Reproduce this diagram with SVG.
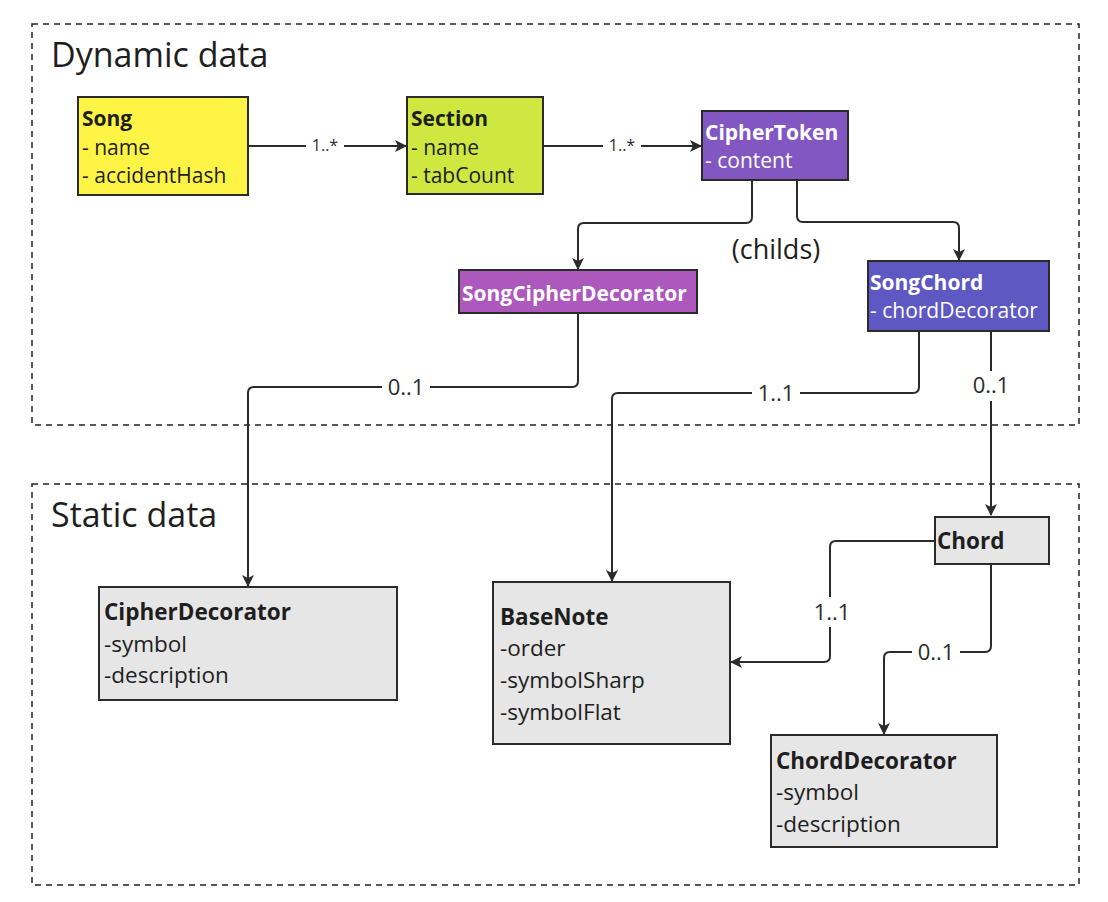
<svg xmlns="http://www.w3.org/2000/svg" width="1108" height="902" viewBox="0 0 1108 902">
<style>
  text { font-family: "Open Sans", "Noto Sans", "Liberation Sans", sans-serif; }
  .frame { fill: none; stroke: #222; stroke-width: 1.5; stroke-dasharray: 6 5; }
  .title { font-size: 34px; fill: #1e1e1e; }
  .box { stroke: #2b2b2b; stroke-width: 2; }
  .t { font-size: 21px; fill: #1e1e1e; }
  .tw { font-size: 21px; fill: #ffffff; }
  .s { font-size: 22.5px; fill: #1e1e1e; }
  .b { font-weight: bold; }
  .edge { fill: none; stroke: #2b2b2b; stroke-width: 2; marker-end: url(#arr); }
  .lbl { font-size: 22px; fill: #2b2b2b; text-anchor: middle; }
  .lbls { font-size: 16px; fill: #2b2b2b; text-anchor: middle; }
  .lblbg { fill: #ffffff; }
</style>
<defs>
  <marker id="arr" viewBox="0 0 12 12" refX="11" refY="6" markerWidth="12" markerHeight="12" markerUnits="userSpaceOnUse" orient="auto">
    <path d="M0,0 L12,6 L0,12 L3,6 Z" fill="#2b2b2b"/>
  </marker>
</defs>
<rect width="1108" height="902" fill="#ffffff"/>

<g id="frame-dynamic">
  <rect class="frame" x="32" y="24" width="1047" height="401"/>
  <text class="title" x="51" y="67">Dynamic data</text>
</g>
<g id="frame-static">
  <rect class="frame" x="32" y="484" width="1047" height="401"/>
  <text class="title" x="51" y="527">Static data</text>
</g>

<g id="connectors">
  <path class="edge" d="M248,146 H406"/>
  <rect class="lblbg" x="306" y="136" width="38" height="20"/>
  <text class="lbls" x="325" y="151">1..*</text>

  <path class="edge" d="M543,146 H701"/>
  <rect class="lblbg" x="603" y="136" width="38" height="20"/>
  <text class="lbls" x="622" y="151">1..*</text>

  <path class="edge" d="M752,180 V217 Q752,223 746,223 H584 Q578,223 578,229 V269"/>
  <path class="edge" d="M797,180 V216 Q797,222 803,222 H953 Q959,222 959,228 V260"/>

  <path class="edge" d="M578,313 V381 Q578,387 572,387 H254 Q248,387 248,393 V586"/>
  <rect class="lblbg" x="382" y="374" width="48" height="26"/>
  <text class="lbl" x="406" y="395">0..1</text>

  <path class="edge" d="M919,331 V387 Q919,393 913,393 H618 Q612,393 612,399 V581"/>
  <rect class="lblbg" x="752" y="380" width="48" height="26"/>
  <text class="lbl" x="776" y="401">1..1</text>

  <path class="edge" d="M991,331 V515"/>
  <rect class="lblbg" x="967" y="371" width="48" height="30"/>
  <text class="lbl" x="991" y="393">0..1</text>

  <path class="edge" d="M935,541 H836 Q830,541 830,547 V656 Q830,662 824,662 H731"/>
  <rect class="lblbg" x="808" y="597" width="48" height="30"/>
  <text class="lbl" x="832" y="620">1..1</text>

  <path class="edge" d="M991,564 V646 Q991,652 985,652 H890 Q884,652 884,658 V734"/>
  <rect class="lblbg" x="912" y="639" width="48" height="26"/>
  <text class="lbl" x="936" y="660">0..1</text>
</g>

<g id="node-song">
  <rect class="box" x="78" y="97" width="170" height="98" fill="#fef445"/>
  <text class="t b" x="82" y="126">Song</text>
  <text class="t" x="82" y="155">- name</text>
  <text class="t" x="82" y="183">- accidentHash</text>
</g>
<g id="node-section">
  <rect class="box" x="407" y="97" width="136" height="97" fill="#cee741"/>
  <text class="t b" x="411" y="126">Section</text>
  <text class="t" x="411" y="155">- name</text>
  <text class="t" x="411" y="183">- tabCount</text>
</g>
<g id="node-ciphertoken">
  <rect class="box" x="702" y="111" width="146" height="69" fill="#8257c2"/>
  <text class="tw b" x="705" y="140">CipherToken</text>
  <text class="tw" x="705" y="168">- content</text>
</g>
<g id="childs-label">
  <text x="776" y="259" text-anchor="middle" style="font-size:27px;fill:#1e1e1e">(childs)</text>
</g>
<g id="node-songcipherdecorator">
  <rect class="box" x="459" y="270" width="238" height="43" fill="#ac58bd"/>
  <text class="tw b" x="462" y="301">SongCipherDecorator</text>
</g>
<g id="node-songchord">
  <rect class="box" x="868" y="261" width="181" height="70" fill="#5e58c2"/>
  <text class="tw b" x="870" y="290">SongChord</text>
  <text class="tw" x="870" y="318">- chordDecorator</text>
</g>
<g id="node-cipherdecorator">
  <rect class="box" x="99" y="587" width="298" height="113" fill="#e6e6e6"/>
  <text class="s b" x="104" y="620">CipherDecorator</text>
  <text class="s" x="104" y="652">-symbol</text>
  <text class="s" x="104" y="683">-description</text>
</g>
<g id="node-basenote">
  <rect class="box" x="493" y="582" width="237" height="162" fill="#e6e6e6"/>
  <text class="s b" x="500" y="625">BaseNote</text>
  <text class="s" x="500" y="656">-order</text>
  <text class="s" x="500" y="688">-symbolSharp</text>
  <text class="s" x="500" y="720">-symbolFlat</text>
</g>
<g id="node-chord">
  <rect class="box" x="935" y="517" width="114" height="47" fill="#e6e6e6"/>
  <text class="s b" x="937" y="549">Chord</text>
</g>
<g id="node-chorddecorator">
  <rect class="box" x="771" y="735" width="226" height="112" fill="#e6e6e6"/>
  <text class="s b" x="776" y="769">ChordDecorator</text>
  <text class="s" x="776" y="800">-symbol</text>
  <text class="s" x="776" y="832">-description</text>
</g>
</svg>
